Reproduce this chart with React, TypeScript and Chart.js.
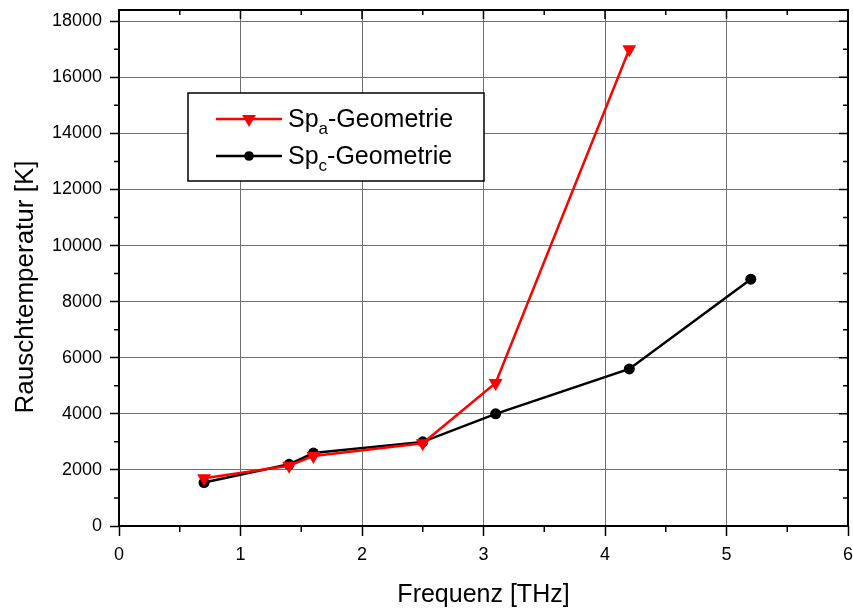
import { useEffect, useRef } from "react";
import { Chart, registerables } from "chart.js";

Chart.register(...registerables);

// Frequency points [THz]
const frequenz = [0.7, 1.4, 1.6, 2.5, 3.1, 4.2, 5.2];
// Noise temperature [K] for the two geometries
const spAValues = [1700, 2150, 2500, 2950, 5100, 17000];
const spCValues = [1550, 2200, 2600, 3000, 4000, 5600, 8800];

const xTickValues = [0, 1, 2, 3, 4, 5, 6];
const xMinorValues = [0.5, 1.5, 2.5, 3.5, 4.5, 5.5];
const yTickValues = [0, 2000, 4000, 6000, 8000, 10000, 12000, 14000, 16000, 18000];
const yMinorValues = [1000, 3000, 5000, 7000, 9000, 11000, 13000, 15000, 17000];

const xTitle = "Frequenz [THz]";
const yTitle = "Rauschtemperatur [K]";
const legendEntries = [
  { main: "Sp", sub: "a", rest: "-Geometrie" },
  { main: "Sp", sub: "c", rest: "-Geometrie" },
];

const FONT = "'Liberation Sans', Arial, sans-serif";
const RED = "#ff0000";
const BLACK = "#000000";

const framePlugin = {
  id: "frame",
  afterDraw(chart: any) {
    const ctx: CanvasRenderingContext2D = chart.ctx;
    const { left, right, top, bottom } = chart.chartArea;
    const xs = chart.scales.x;
    const ys = chart.scales.y;
    ctx.save();

    // minor ticks and mirrored ticks on top / right
    ctx.strokeStyle = BLACK;
    ctx.lineWidth = 1.5;
    ctx.beginPath();
    for (const v of xMinorValues) {
      const px = xs.getPixelForValue(v);
      ctx.moveTo(px, bottom);
      ctx.lineTo(px, bottom + 6);
      ctx.moveTo(px, top);
      ctx.lineTo(px, top + 5);
    }
    for (const v of xTickValues) {
      const px = xs.getPixelForValue(v);
      ctx.moveTo(px, top);
      ctx.lineTo(px, top + 9);
    }
    for (const v of yMinorValues) {
      const py = ys.getPixelForValue(v);
      ctx.moveTo(left, py);
      ctx.lineTo(left - 5, py);
      ctx.moveTo(right, py);
      ctx.lineTo(right - 5, py);
    }
    for (const v of yTickValues) {
      const py = ys.getPixelForValue(v);
      ctx.moveTo(right, py);
      ctx.lineTo(right - 9, py);
    }
    ctx.stroke();

    // axis frame
    ctx.lineWidth = 2;
    ctx.strokeRect(left, top, right - left, bottom - top);

    // axis titles
    ctx.fillStyle = BLACK;
    ctx.textAlign = "center";
    ctx.textBaseline = "middle";
    ctx.font = `25px ${FONT}`;
    ctx.fillText(xTitle, (left + right) / 2, 595);
    ctx.save();
    ctx.translate(26, 287);
    ctx.rotate(-Math.PI / 2);
    ctx.font = `26px ${FONT}`;
    ctx.fillText(yTitle, 0, 0);
    ctx.restore();

    // legend box
    const bx = 188, by = 93, bw = 296, bh = 88;
    ctx.fillStyle = "#ffffff";
    ctx.fillRect(bx, by, bw, bh);
    ctx.strokeStyle = BLACK;
    ctx.lineWidth = 1.5;
    ctx.strokeRect(bx, by, bw, bh);

    const rowY = [119, 156];
    chart.data.datasets.forEach((ds: any, i: number) => {
      const y = rowY[i];
      ctx.strokeStyle = ds.borderColor;
      ctx.lineWidth = 2.5;
      ctx.beginPath();
      ctx.moveTo(216, y);
      ctx.lineTo(282, y);
      ctx.stroke();
      ctx.fillStyle = ds.pointBackgroundColor;
      ctx.beginPath();
      if (ds.pointStyle === "triangle") {
        const r = ds.pointRadius;
        ctx.moveTo(249 - r * 0.866, y - r * 0.5);
        ctx.lineTo(249 + r * 0.866, y - r * 0.5);
        ctx.lineTo(249, y + r);
        ctx.closePath();
      } else {
        ctx.arc(249, y, 4.8, 0, Math.PI * 2);
      }
      ctx.fill();

      const e = legendEntries[i];
      ctx.fillStyle = BLACK;
      ctx.textAlign = "left";
      ctx.textBaseline = "alphabetic";
      let tx = 288;
      const base = y + 8;
      ctx.font = `25px ${FONT}`;
      ctx.fillText(e.main, tx, base);
      tx += ctx.measureText(e.main).width;
      ctx.font = `17px ${FONT}`;
      ctx.fillText(e.sub, tx, base + 7);
      tx += ctx.measureText(e.sub).width;
      ctx.font = `25px ${FONT}`;
      ctx.fillText(e.rest, tx, base);
    });

    ctx.restore();
  },
};

export default function App() {
  const ref = useRef<HTMLCanvasElement | null>(null);

  useEffect(() => {
    if (!ref.current) return;
    const chart = new Chart(ref.current, {
      type: "line",
      data: {
        datasets: [
          {
            label: "Spa-Geometrie",
            data: spAValues.map((v, i) => ({ x: frequenz[i], y: v })),
            borderColor: RED,
            backgroundColor: RED,
            pointBackgroundColor: RED,
            pointBorderColor: RED,
            pointStyle: "triangle",
            rotation: 180,
            pointRadius: 8,
            pointBorderWidth: 0,
            borderWidth: 2.5,
            tension: 0,
          },
          {
            label: "Spc-Geometrie",
            data: spCValues.map((v, i) => ({ x: frequenz[i], y: v })),
            borderColor: BLACK,
            backgroundColor: BLACK,
            pointBackgroundColor: BLACK,
            pointBorderColor: BLACK,
            pointStyle: "circle",
            pointRadius: 5.5,
            pointBorderWidth: 0,
            borderWidth: 2.5,
            tension: 0,
          },
        ],
      },
      options: {
        responsive: false,
        animation: false,
        devicePixelRatio: 1,
        layout: { padding: { top: 10, right: 0, left: 0, bottom: 0 } },
        plugins: {
          legend: { display: false },
          tooltip: { enabled: false },
        },
        scales: {
          x: {
            type: "linear",
            min: 0,
            max: 6,
            afterBuildTicks: (s: any) => {
              s.ticks = xTickValues.map((v) => ({ value: v }));
            },
            afterFit: (s: any) => {
              s.height = 85;
              s.paddingLeft = 0;
              s.paddingRight = 0;
            },
            ticks: {
              color: BLACK,
              font: { family: FONT, size: 18 },
              padding: 8,
              maxRotation: 0,
              callback: (v: any) => String(v),
            },
            grid: {
              color: "#707070",
              lineWidth: 1,
              tickLength: 10,
              tickColor: BLACK,
              tickWidth: 1.5,
            },
            border: { display: false },
          },
          y: {
            type: "linear",
            min: 0,
            max: 18400,
            afterBuildTicks: (s: any) => {
              s.ticks = yTickValues.map((v) => ({ value: v }));
            },
            afterFit: (s: any) => {
              s.width = 119;
              s.paddingTop = 0;
              s.paddingBottom = 0;
            },
            ticks: {
              color: BLACK,
              font: { family: FONT, size: 18 },
              padding: 8,
              callback: (v: any) => String(v),
            },
            grid: {
              color: "#707070",
              lineWidth: 1,
              tickLength: 9,
              tickColor: BLACK,
              tickWidth: 1.5,
            },
            border: { display: false },
          },
        },
      },
      plugins: [framePlugin],
    });
    return () => chart.destroy();
  }, []);

  return (
    <div
      style={{
        position: "absolute",
        left: 0,
        top: 0,
        width: 853,
        height: 611,
        overflow: "hidden",
        background: "#ffffff",
      }}
    >
      <canvas ref={ref} width={856} height={611} style={{ display: "block" }} />
    </div>
  );
}
